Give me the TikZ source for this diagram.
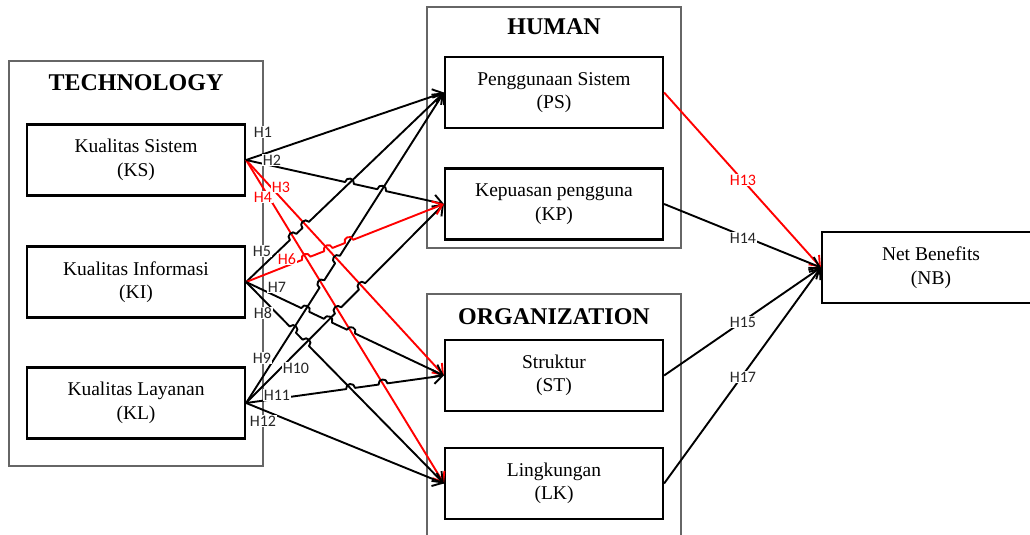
\documentclass[tikz,border=0pt]{standalone}
\usepackage{fontspec}
\setmainfont{Liberation Serif}
\newfontfamily\lblfont{Carlito}
\usetikzlibrary{arrows.meta,calc,intersections}

\begin{document}
\begin{tikzpicture}[x=1pt,y=-1pt,
  grp/.style={draw=black!60,line width=1.3pt},
  box/.style={draw=black,line width=2.2pt,fill=white,minimum width=218pt,
    minimum height=71pt,align=center,inner sep=0pt,
    font=\fontsize{19.5}{23.5}\selectfont},
  ttl/.style={inner sep=0pt,font=\fontsize{24}{28}\selectfont\bfseries},
  conn/.style={line width=1.9pt,line join=round,
    -{Straight Barb[length=9pt,width=14pt]}},
  hot/.style={conn,draw=red},
  hlab/.style={font=\lblfont\fontsize{16}{19}\selectfont,text=black!85,
    fill=white,inner sep=0.8pt},
  hlabred/.style={hlab,text=red},
  hop/.style={bend left=90,looseness=1.7}
]
\def\hr{4.5pt}
\useasboundingbox (0,0) rectangle (1030,535);

% group frames
\draw[grp] (9,61) rectangle (263,466);
\draw[grp] (427,7) rectangle (681,248);
\draw[grp] (427,537) -- (427,294) -- (681,294) -- (681,537);
\node[ttl] (ttech) at (136,83) {TECHNOLOGY};
\node[ttl] (thum) at (554,27) {HUMAN};
\node[ttl] (torg) at (554,317) {ORGANIZATION};

% construct boxes
\node[box] (ks) at (136,160) {Kualitas Sistem\\(KS)};
\node[box] (ki) at (136,282) {Kualitas Informasi\\(KI)};
\node[box] (kl) at (136,403) {Kualitas Layanan\\(KL)};
\node[box] (ps) at (554,92.5) {Penggunaan Sistem\\(PS)};
\node[box] (kp) at (554,204) {Kepuasan pengguna\\(KP)};
\node[box] (st) at (554,375.5) {Struktur\\(ST)};
\node[box] (lk) at (554,483.5) {Lingkungan\\(LK)};
\node[box] (nb) at (931,267.5) {Net Benefits\\(NB)};

% helper paths for the crossing points
\path[name path=p2] (ks.east) -- (kp.west);
\path[name path=p3] (ks.east) -- (st.west);
\path[name path=p4] (ks.east) -- (lk.west);
\path[name path=p5] (ki.east) -- (ps.west);
\path[name path=p6] (ki.east) -- (kp.west);
\path[name path=p7] (ki.east) -- (st.west);
\path[name path=p8] (ki.east) -- (lk.west);
\path[name path=p9] (kl.east) -- (ps.west);
\path[name path=p10] (kl.east) -- (kp.west);
\path[name path=p11] (kl.east) -- (st.west);
\path[name intersections={of=p2 and p5,by=c25}];
\path[name intersections={of=p2 and p9,by=c29}];
\path[name intersections={of=p5 and p4,by=c45}];
\path[name intersections={of=p5 and p3,by=c35}];
\path[name intersections={of=p6 and p4,by=c46}];
\path[name intersections={of=p6 and p3,by=c36}];
\path[name intersections={of=p6 and p9,by=c69}];
\path[name intersections={of=p7 and p9,by=c79}];
\path[name intersections={of=p7 and p10,by=c7a}];
\path[name intersections={of=p7 and p4,by=c47}];
\path[name intersections={of=p8 and p9,by=c89}];
\path[name intersections={of=p8 and p10,by=c8a}];
\path[name intersections={of=p9 and p4,by=c49}];
\path[name intersections={of=p9 and p3,by=c39}];
\path[name intersections={of=p10 and p4,by=c4a}];
\path[name intersections={of=p10 and p3,by=c3a}];
\path[name intersections={of=p11 and p8,by=c8b}];
\path[name intersections={of=p11 and p4,by=c4b}];

% connectors from TECHNOLOGY (straight ones first)
\draw[hot] (ks.east) -- (st.west);
\draw[hot] (ks.east) -- (lk.west);
\draw[conn] (ks.east) -- (ps.west);
\draw[conn] (kl.east) -- (lk.west);
% connectors with line jumps
\draw[conn] (ks.east)
  -- ($(c25)!\hr!(ks.east)$) to[hop] ($(c25)!\hr!(kp.west)$)
  -- ($(c29)!\hr!(ks.east)$) to[hop] ($(c29)!\hr!(kp.west)$)
  -- (kp.west);
\draw[conn] (ki.east)
  -- ($(c45)!\hr!(ki.east)$) to[hop] ($(c45)!\hr!(ps.west)$)
  -- ($(c35)!\hr!(ki.east)$) to[hop] ($(c35)!\hr!(ps.west)$)
  -- (ps.west);
\draw[conn] (kl.east)
  -- ($(c49)!\hr!(kl.east)$) to[hop] ($(c49)!\hr!(ps.west)$)
  -- ($(c39)!\hr!(kl.east)$) to[hop] ($(c39)!\hr!(ps.west)$)
  -- (ps.west);
\draw[conn] (kl.east)
  -- ($(c4a)!\hr!(kl.east)$) to[hop] ($(c4a)!\hr!(kp.west)$)
  -- ($(c3a)!\hr!(kl.east)$) to[hop] ($(c3a)!\hr!(kp.west)$)
  -- (kp.west);
\draw[hot] (ki.east)
  -- ($(c46)!\hr!(ki.east)$) to[hop] ($(c46)!\hr!(kp.west)$)
  -- ($(c36)!\hr!(ki.east)$) to[hop] ($(c36)!\hr!(kp.west)$)
  -- ($(c69)!\hr!(ki.east)$) to[hop] ($(c69)!\hr!(kp.west)$)
  -- (kp.west);
\draw[conn] (ki.east)
  -- ($(c79)!\hr!(ki.east)$) to[hop] ($(c79)!\hr!(st.west)$)
  -- ($(c7a)!\hr!(ki.east)$) to[hop] ($(c7a)!\hr!(st.west)$)
  -- ($(c47)!\hr!(ki.east)$) to[hop] ($(c47)!\hr!(st.west)$)
  -- (st.west);
\draw[conn] (ki.east)
  -- ($(c89)!\hr!(ki.east)$) to[hop] ($(c89)!\hr!(lk.west)$)
  -- ($(c8a)!\hr!(ki.east)$) to[hop] ($(c8a)!\hr!(lk.west)$)
  -- (lk.west);
\draw[conn] (kl.east)
  -- ($(c8b)!\hr!(kl.east)$) to[hop] ($(c8b)!\hr!(st.west)$)
  -- ($(c4b)!\hr!(kl.east)$) to[hop] ($(c4b)!\hr!(st.west)$)
  -- (st.west);

% connectors to Net Benefits
\draw[hot] (ps.east) -- (nb.west);
\draw[conn] (kp.east) -- (nb.west);
\draw[conn] (st.east) -- (nb.west);
\draw[conn] (lk.east) -- (nb.west);

% hypothesis labels
\node[hlab] (l1) at (263,132) {H1};
\node[hlab] (l2) at (272,160) {H2};
\node[hlabred] (l3) at (281,187) {H3};
\node[hlabred] (l4) at (263,197) {H4};
\node[hlab] (l5) at (262,251) {H5};
\node[hlabred] (l6) at (287,259) {H6};
\node[hlab] (l7) at (277,287) {H7};
\node[hlab] (l8) at (263,313) {H8};
\node[hlab] (l9) at (262,358) {H9};
\node[hlab] (l10) at (296,368) {H10};
\node[hlab] (l11) at (277,395) {H11};
\node[hlab] (l12) at (263,421) {H12};
\node[hlabred] (l13) at (743,180) {H13};
\node[hlab] (l14) at (743,238) {H14};
\node[hlab] (l15) at (743,322) {H15};
\node[hlab] (l17) at (743,377) {H17};
\end{tikzpicture}
\end{document}
